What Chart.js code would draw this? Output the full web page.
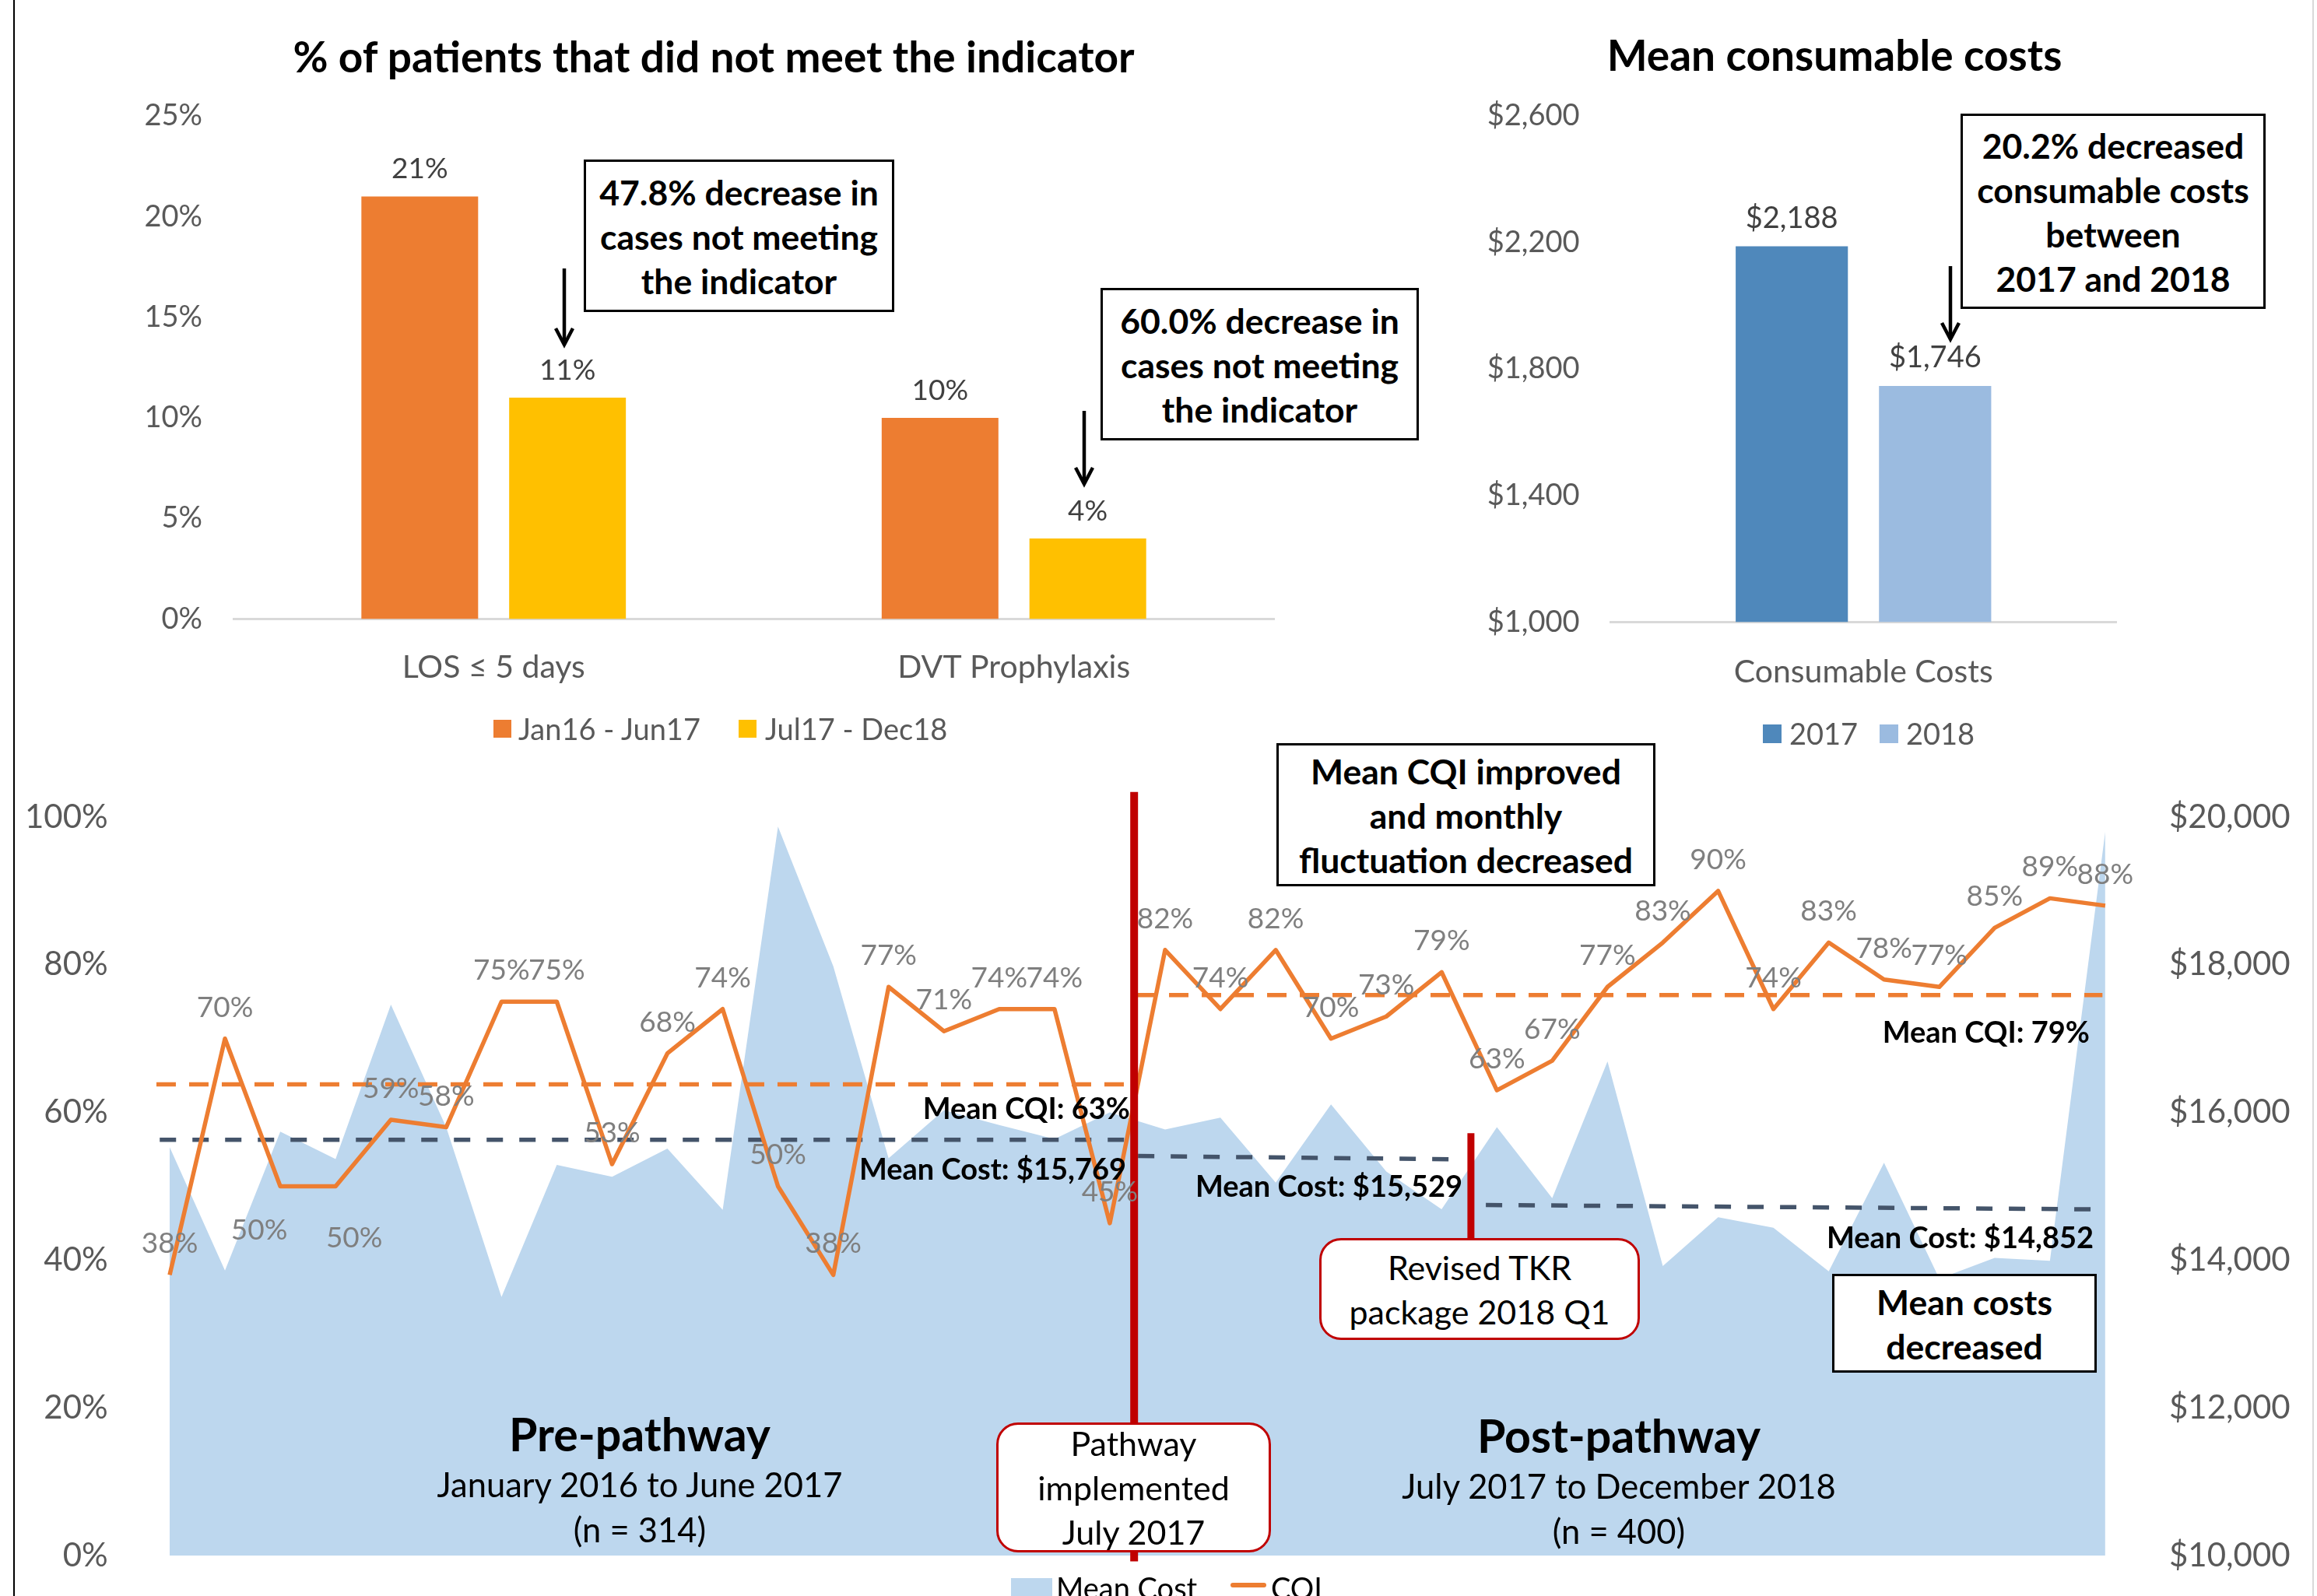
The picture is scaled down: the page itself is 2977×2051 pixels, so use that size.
<!DOCTYPE html>
<html lang="en">
<head>
<meta charset="utf-8">
<title>TKR pathway outcomes</title>
<script src="https://cdn.jsdelivr.net/npm/chart.js@4.4.1/dist/chart.umd.min.js"></script>
<style>
  html, body { margin: 0; padding: 0; background: #fff; }
  #page { position: relative; width: 2977px; height: 2051px; overflow: hidden; font-family: Lato, sans-serif; color: #000; }
  #page canvas { position: absolute; }
  .title { position: absolute; transform: translate(-50%, -50%); font-weight: bold; font-size: 55px; white-space: nowrap; }
  .box { position: absolute; box-sizing: border-box; background: #fff; border: 3px solid #000; display: flex; align-items: center; justify-content: center; text-align: center; font-size: 44.5px; line-height: 57px; font-weight: bold; white-space: nowrap; }
  .box.red { border: 3px solid #c00000; border-radius: 28px; font-weight: normal; font-size: 43px; }
  .txt { position: absolute; white-space: nowrap; line-height: 1; transform: translateY(-50%); }
  .mid { transform: translate(-50%, -50%); text-align: center; }
  .note { font-weight: bold; font-size: 38px; }
  .legend { font-size: 38px; color: #595959; }
  .swatch { position: absolute; }
  .frame { position: absolute; top: 0; height: 2051px; }
</style>
</head>
<body>
<div id="page">
  <canvas id="trendChart" width="2977" height="2051" style="left:0;top:0"></canvas>
  <canvas id="indicatorChart" width="1700" height="900" style="left:0;top:0"></canvas>
  <canvas id="consumableChart" width="1100" height="900" style="left:1750px;top:0"></canvas>

  <div class="frame" style="left:17px;width:2px;background:#000"></div>
  <div class="frame" style="left:2971px;width:2px;background:#d9d9d9"></div>

  <!-- chart titles -->
  <div class="title" style="left:917px;top:72px">% of patients that did not meet the indicator</div>
  <div class="title" style="left:2357px;top:70px">Mean consumable costs</div>

  <!-- legends of the two bar charts -->
  <div class="swatch" style="left:634px;top:925px;width:23px;height:23px;background:#ED7D31"></div>
  <div class="txt legend" style="left:666px;top:936px">Jan16 - Jun17</div>
  <div class="swatch" style="left:949px;top:925px;width:23px;height:23px;background:#FFC000"></div>
  <div class="txt legend" style="left:983px;top:936px">Jul17 - Dec18</div>

  <div class="swatch" style="left:2265px;top:931px;width:24px;height:24px;background:#4F88BB"></div>
  <div class="txt legend" style="left:2299px;top:942px">2017</div>
  <div class="swatch" style="left:2415px;top:931px;width:24px;height:24px;background:#9BBBE0"></div>
  <div class="txt legend" style="left:2449px;top:942px">2018</div>

  <!-- call-out boxes -->
  <div class="box" style="left:750px;top:205px;width:399px;height:196px">47.8% decrease in<br>cases not meeting<br>the indicator</div>
  <div class="box" style="left:1414px;top:370px;width:409px;height:196px">60.0% decrease in<br>cases not meeting<br>the indicator</div>
  <div class="box" style="left:2519px;top:146px;width:392px;height:251px">20.2% decreased<br>consumable costs<br>between<br>2017 and 2018</div>
  <div class="box" style="left:1640px;top:955px;width:487px;height:184px">Mean CQI improved<br>and monthly<br>fluctuation decreased</div>
  <div class="box red" style="left:1695px;top:1591px;width:412px;height:131px">Revised TKR<br>package 2018 Q1</div>
  <div class="box" style="left:2354px;top:1637px;width:340px;height:127px">Mean costs<br>decreased</div>
  <div class="box red" style="left:1280px;top:1828px;width:353px;height:167px">Pathway<br>implemented<br>July 2017</div>

  <svg style="position:absolute;left:0;top:0" width="2977" height="2051">
    <g stroke="#000" stroke-width="4.5" fill="none">
      <line x1="725" y1="345" x2="725" y2="441"/>
      <polyline points="714,422 725,443 736,422"/>
      <line x1="1393" y1="528" x2="1393" y2="620"/>
      <polyline points="1382,601 1393,622 1404,601"/>
      <line x1="2506" y1="342" x2="2506" y2="434"/>
      <polyline points="2495,415 2506,436 2517,415"/>
    </g>
  </svg>

  <!-- mean labels on the trend chart -->
  <div class="txt note" style="right:1525px;top:1423px">Mean CQI: 63%</div>
  <div class="txt note" style="right:1530px;top:1501px">Mean Cost: $15,769</div>
  <div class="txt note" style="right:1098px;top:1523px">Mean Cost: $15,529</div>
  <div class="txt note" style="right:292px;top:1325px">Mean CQI: 79%</div>
  <div class="txt note" style="right:287px;top:1589px">Mean Cost: $14,852</div>

  <!-- period captions -->
  <div class="txt mid" style="left:822px;top:1842px;font-size:59px;font-weight:bold">Pre-pathway</div>
  <div class="txt mid" style="left:822px;top:1908px;font-size:43.5px">January 2016 to June 2017</div>
  <div class="txt mid" style="left:822px;top:1966px;font-size:43.5px">(n = 314)</div>
  <div class="txt mid" style="left:2080px;top:1844px;font-size:59px;font-weight:bold">Post-pathway</div>
  <div class="txt mid" style="left:2080px;top:1910px;font-size:43.5px">July 2017 to December 2018</div>
  <div class="txt mid" style="left:2080px;top:1968px;font-size:43.5px">(n = 400)</div>

  <!-- trend chart legend -->
  <div class="swatch" style="left:1299px;top:2028px;width:53px;height:30px;background:#BDD7EE"></div>
  <div class="txt" style="left:1357px;top:2040px;font-size:38px">Mean Cost</div>
  <div class="swatch" style="left:1581px;top:2034px;width:46px;height:6px;border-radius:3px;background:#ED7D31"></div>
  <div class="txt" style="left:1633px;top:2040px;font-size:38px">CQI</div>
</div>

<script>
// ---- % of patients not meeting the indicator ----
const indicatorCategories = ['LOS \u2264 5 days', 'DVT Prophylaxis'];
const indicatorPeriods = ['Jan16 - Jun17', 'Jul17 - Dec18'];
const indicatorPre = [21, 10];
const indicatorPost = [11, 4];
const indicatorTicks = [0, 5, 10, 15, 20, 25];

// ---- mean consumable costs ----
const consumableCategories = ['Consumable Costs'];
const consumableYears = ['2017', '2018'];
const consumable2017 = [2188];
const consumable2018 = [1746];
const consumableTicks = [1000, 1400, 1800, 2200, 2600];

// ---- monthly CQI and mean cost, Jan 2016 - Dec 2018 ----
const months = [
    'Jan 2016', 'Feb 2016', 'Mar 2016', 'Apr 2016', 'May 2016', 'Jun 2016',
    'Jul 2016', 'Aug 2016', 'Sep 2016', 'Oct 2016', 'Nov 2016', 'Dec 2016',
    'Jan 2017', 'Feb 2017', 'Mar 2017', 'Apr 2017', 'May 2017', 'Jun 2017',
    'Jul 2017', 'Aug 2017', 'Sep 2017', 'Oct 2017', 'Nov 2017', 'Dec 2017',
    'Jan 2018', 'Feb 2018', 'Mar 2018', 'Apr 2018', 'May 2018', 'Jun 2018',
    'Jul 2018', 'Aug 2018', 'Sep 2018', 'Oct 2018', 'Nov 2018', 'Dec 2018'
];
const cqiValues = [
    38, 70, 50, 50, 59, 58, 75, 75, 53, 68, 74, 50, 38, 77, 71, 74, 74, 45,
    82, 74, 82, 70, 73, 79, 63, 67, 77, 83, 90, 74, 83, 78, 77, 85, 89, 88
];
const meanCostValues = [
    15530, 13860, 15740, 15370, 17460, 15800, 13500, 15290, 15130, 15510, 14680, 19870,
    17980, 15380, 16030, 15830, 15640, 16000, 15770, 15930, 15050, 16110, 15200, 14690,
    15800, 14840, 16690, 13920, 14580, 14440, 13850, 15320, 13750, 14030, 13990, 19800
];
const cqiTicks = [0, 20, 40, 60, 80, 100];
const costTicks = [10000, 12000, 14000, 16000, 18000, 20000];

// period means, as drawn: level and the span of months they cover
const cqiMeans = [63.8, 75.9];
const cqiMeanSpans = [[-0.24, 17.30], [17.48, 34.95]];
const costMeans = [[15630, 15630], [15410, 15366], [14747, 14688]];
const costMeanSpans = [[-0.18, 17.44], [17.51, 23.22], [23.80, 34.86]];

// pathway start and TKR package revision (month index, % range)
const eventMarkers = [
    { at: 17.44, from: 103.4, to: -0.8, width: 10 },
    { at: 23.53, from: 57.2, to: 42.9, width: 9 }
];

Chart.defaults.font.family = 'Lato, sans-serif';
Chart.defaults.color = '#595959';

document.addEventListener('DOMContentLoaded', function() {
    createIndicatorChart();
    createConsumableChart();
    createTrendChart();
});

// value labels above each bar
const barValueLabels = {
    id: 'barValueLabels',
    afterDatasetsDraw(chart, args, opts) {
        const ctx = chart.ctx;
        ctx.save();
        ctx.font = opts.size + 'px Lato, sans-serif';
        ctx.fillStyle = opts.color;
        ctx.textAlign = 'center';
        ctx.textBaseline = 'middle';
        chart.data.datasets.forEach((ds, i) => {
            chart.getDatasetMeta(i).data.forEach((bar, j) => {
                ctx.fillText(opts.format(ds.data[j]), bar.x, bar.y - opts.offset);
            });
        });
        ctx.restore();
    }
};

function ticksFrom(list) {
    return { min: list[0], max: list[list.length - 1], step: list[1] - list[0] };
}

// fixed axis width; the label overhang must not push the plot area in
function fixedWidth(width) {
    return s => {
        s.width = width;
        s.paddingTop = 0;
        s.paddingBottom = 0;
    };
}

function createIndicatorChart() {
    const t = ticksFrom(indicatorTicks);
    const ctx = document.getElementById('indicatorChart').getContext('2d');
    new Chart(ctx, {
        type: 'bar',
        data: {
            labels: indicatorCategories,
            datasets: [
                {
                    label: indicatorPeriods[0],
                    data: indicatorPre,
                    backgroundColor: '#ED7D31',
                    categoryPercentage: 0.568,
                    barPercentage: 0.79
                },
                {
                    label: indicatorPeriods[1],
                    data: indicatorPost,
                    backgroundColor: '#FFC000',
                    categoryPercentage: 0.568,
                    barPercentage: 0.79
                }
            ]
        },
        options: {
            responsive: false,
            devicePixelRatio: 1,
            animation: false,
            layout: { padding: { left: 0, right: 63, top: 149, bottom: 0 } },
            scales: {
                x: {
                    grid: { display: false, drawTicks: false },
                    border: { display: true, color: '#D9D9D9', width: 3 },
                    ticks: { font: { size: 41 }, color: '#595959', padding: 38 },
                    afterFit: s => { s.height = 104.5; }
                },
                y: {
                    min: t.min,
                    max: t.max,
                    grid: { display: false, drawTicks: false },
                    border: { display: false },
                    ticks: { stepSize: t.step, font: { size: 38 }, color: '#595959', padding: 40, callback: v => v + '%' },
                    afterFit: fixedWidth(300)
                }
            },
            plugins: {
                legend: { display: false },
                tooltip: { enabled: false },
                barValueLabels: { format: v => v + '%', offset: 35, size: 37, color: '#404040' }
            }
        },
        plugins: [barValueLabels]
    });
}

function createConsumableChart() {
    const t = ticksFrom(consumableTicks);
    const ctx = document.getElementById('consumableChart').getContext('2d');
    new Chart(ctx, {
        type: 'bar',
        data: {
            labels: consumableCategories,
            datasets: [
                {
                    label: consumableYears[0],
                    data: consumable2017,
                    backgroundColor: '#4F88BB',
                    categoryPercentage: 0.567,
                    barPercentage: 0.783
                },
                {
                    label: consumableYears[1],
                    data: consumable2018,
                    backgroundColor: '#9BBBE0',
                    categoryPercentage: 0.567,
                    barPercentage: 0.783
                }
            ]
        },
        options: {
            responsive: false,
            devicePixelRatio: 1,
            animation: false,
            layout: { padding: { left: 0, right: 131, top: 149, bottom: 0 } },
            scales: {
                x: {
                    grid: { display: false, drawTicks: false },
                    border: { display: true, color: '#D9D9D9', width: 3 },
                    ticks: { font: { size: 41 }, color: '#595959', padding: 40 },
                    afterFit: s => { s.height = 100.7; }
                },
                y: {
                    min: t.min,
                    max: t.max,
                    grid: { display: false, drawTicks: false },
                    border: { display: false },
                    ticks: {
                        stepSize: t.step, font: { size: 38 }, color: '#595959', padding: 40,
                        callback: v => '$' + v.toLocaleString('en-US')
                    },
                    afterFit: fixedWidth(319.5)
                }
            },
            plugins: {
                legend: { display: false },
                tooltip: { enabled: false },
                barValueLabels: { format: v => '$' + v.toLocaleString('en-US'), offset: 36, size: 38, color: '#404040' }
            }
        },
        plugins: [barValueLabels]
    });
}

// CQI percentages over the line and the red event markers
const trendDecorations = {
    id: 'trendDecorations',
    afterDatasetsDraw(chart, args, opts) {
        const { ctx, scales: { x, y } } = chart;
        ctx.save();
        ctx.strokeStyle = '#C00000';
        eventMarkers.forEach(m => {
            const px = x.getPixelForValue(m.at);
            ctx.lineWidth = m.width;
            ctx.beginPath();
            ctx.moveTo(px, y.getPixelForValue(m.from));
            ctx.lineTo(px, y.getPixelForValue(m.to));
            ctx.stroke();
        });

        ctx.font = opts.size + 'px Lato, sans-serif';
        ctx.fillStyle = opts.color;
        ctx.textAlign = 'center';
        ctx.textBaseline = 'middle';
        chart.getDatasetMeta(0).data.forEach((pt, i) => {
            const shift = opts.shifts[i] || [0, -opts.offset];
            ctx.fillText(cqiValues[i] + '%', pt.x + shift[0], pt.y + shift[1]);
        });
        ctx.restore();
    }
};

function createTrendChart() {
    const tc = ticksFrom(cqiTicks);
    const td = ticksFrom(costTicks);

    const datasets = [{
        label: 'CQI',
        data: cqiValues.map((v, i) => ({ x: i, y: v })),
        yAxisID: 'y',
        borderColor: '#ED7D31',
        borderWidth: 5.5,
        borderJoinStyle: 'round',
        pointRadius: 0,
        fill: false,
        order: 0
    }];

    cqiMeans.forEach((v, k) => {
        datasets.push({
            label: 'Mean CQI ' + (k + 1),
            data: cqiMeanSpans[k].map(m => ({ x: m, y: v })),
            yAxisID: 'y',
            borderColor: '#ED7D31',
            borderWidth: 5.5,
            borderDash: [25, 17],
            pointRadius: 0,
            fill: false,
            order: 1
        });
    });

    costMeans.forEach((v, k) => {
        datasets.push({
            label: 'Mean Cost ' + (k + 1),
            data: costMeanSpans[k].map((m, j) => ({ x: m, y: v[j] })),
            yAxisID: 'y2',
            borderColor: '#44546A',
            borderWidth: 5.5,
            borderDash: [21, 21],
            pointRadius: 0,
            fill: false,
            order: 2
        });
    });

    datasets.push({
        label: 'Mean Cost',
        data: meanCostValues.map((v, i) => ({ x: i, y: v })),
        yAxisID: 'y2',
        backgroundColor: '#BDD7EE',
        borderWidth: 0,
        pointRadius: 0,
        fill: 'start',
        order: 5
    });

    const ctx = document.getElementById('trendChart').getContext('2d');
    new Chart(ctx, {
        type: 'line',
        data: { labels: months, datasets: datasets },
        options: {
            responsive: false,
            devicePixelRatio: 1,
            animation: false,
            layout: { padding: { left: 0, right: 0, top: 1050, bottom: 52 } },
            scales: {
                x: { type: 'linear', min: -0.3, max: 35.1, display: false },
                y: {
                    position: 'left',
                    min: tc.min,
                    max: tc.max,
                    grid: { display: false, drawTicks: false },
                    border: { display: false },
                    ticks: { stepSize: tc.step, font: { size: 42 }, color: '#595959', padding: 58, callback: v => v + '%' },
                    afterFit: fixedWidth(196.7)
                },
                y2: {
                    position: 'right',
                    min: td.min,
                    max: td.max,
                    grid: { display: false, drawTicks: false },
                    border: { display: false },
                    ticks: {
                        stepSize: td.step, font: { size: 42 }, color: '#595959', padding: 75,
                        callback: v => '$' + v.toLocaleString('en-US')
                    },
                    afterFit: fixedWidth(265)
                }
            },
            plugins: {
                legend: { display: false },
                tooltip: { enabled: false },
                trendDecorations: {
                    size: 37,
                    color: '#7F7F7F',
                    offset: 40,
                    shifts: { 2: [-27, 57], 3: [24, 67] }
                }
            }
        },
        plugins: [trendDecorations]
    });
}
</script>
</body>
</html>
